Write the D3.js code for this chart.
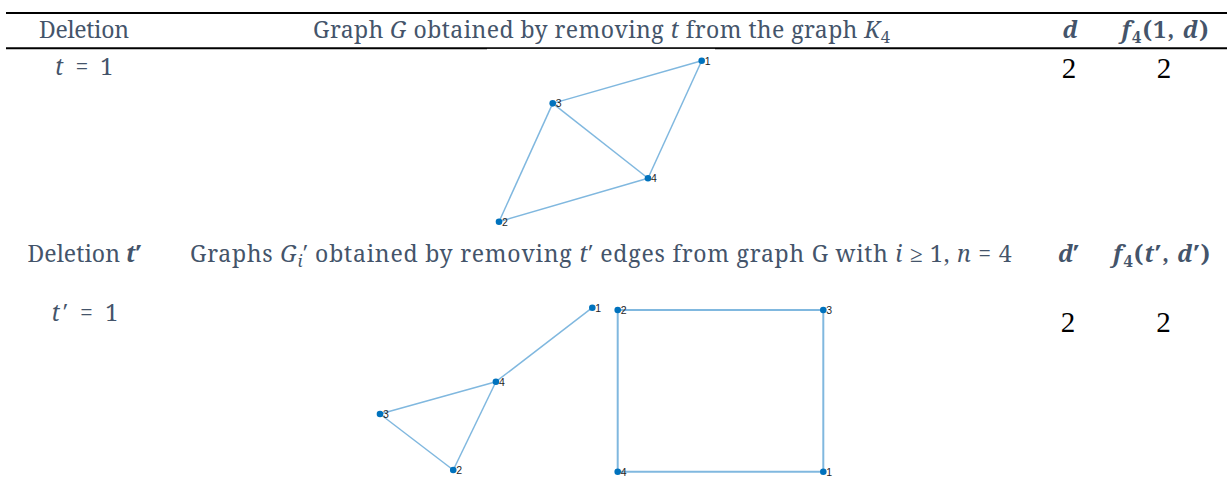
<!DOCTYPE html>
<html>
<head>
<meta charset="utf-8">
<script src="https://cdn.jsdelivr.net/npm/d3@7"></script>
<style>
  body { margin: 0; background: #fff; }
  svg { display: block; }
</style>
</head>
<body>
<script>
const WIDTH = 1227;
const HEIGHT = 478;
const TEXT_COLOR = '#44546A';
const NODE_COLOR = '#0072BD';
const EDGE_COLOR = '#80B8DF';
const SERIF = "'Noto Serif'";
const TIMES = "'Liberation Serif'";
const SANS = "'Liberation Sans'";

// table text: *..* italic, ~..~ subscript, #..# bold
var deletionLabels = ['Deletion', 'Deletion #*t*′#'];
var graphTitles = [
    'Graph *G* obtained by removing *t* from the graph *K*~4~',
    'Graphs *G*~*i*~′ obtained by removing *t*′ edges from graph G with *i* ≥ 1, *n* = 4'
];
var dLabels = ['#*d*#', '#*d*′#'];
var fLabels = ['#*f*~4~(1, *d*)#', '#*f*~4~(*t*′, *d*′)#'];
var tValues = ['*t* = 1', '*t*′ = 1'];
var dValues = [2, 2];
var fValues = [2, 2];

// graph layouts (node x / y in layout units, edges as node pairs)
var graph1Nodes = [
    {id: 1, x: 1.0, y: 1.0},
    {id: 2, x: 0.0, y: 0.0},
    {id: 3, x: 0.265, y: 0.735},
    {id: 4, x: 0.735, y: 0.27}
];
var graph1Edges = [[1, 3], [1, 4], [3, 4], [3, 2], [2, 4]];

var graph2aNodes = [
    {id: 1, x: 1.0, y: 1.0},
    {id: 2, x: 0.345, y: 0.0},
    {id: 3, x: 0.0, y: 0.345},
    {id: 4, x: 0.546, y: 0.544}
];
var graph2aEdges = [[1, 4], [4, 3], [4, 2], [3, 2]];

var graph2bNodes = [
    {id: 1, x: 1.0, y: 0.0},
    {id: 2, x: 0.0, y: 1.0},
    {id: 3, x: 1.0, y: 1.0},
    {id: 4, x: 0.0, y: 0.0}
];
var graph2bEdges = [[2, 3], [3, 1], [1, 4], [4, 2]];

var svg = d3.select('body').append('svg')
    .attr('width', WIDTH)
    .attr('height', HEIGHT)
    .style('background', '#fff');

var parseRuns = function(src) {
    var runs = [];
    var state = {it: false, sub: false, bold: false};
    var buf = '';
    var flush = function() {
        if (buf.length) runs.push({text: buf, it: state.it, sub: state.sub, bold: state.bold});
        buf = '';
    };
    for (var i = 0; i < src.length; i++) {
        var c = src[i];
        if (c === '*') { flush(); state.it = !state.it; }
        else if (c === '~') { flush(); state.sub = !state.sub; }
        else if (c === '#') { flush(); state.bold = !state.bold; }
        else buf += c;
    }
    flush();
    return runs;
};

// place rich text starting at x0; longer strings get their spacing stretched to end at x1
var richText = function(src, x0, x1, baseline, size, color) {
    var t = svg.append('text')
        .attr('x', x0)
        .attr('y', baseline)
        .style('font-family', SERIF)
        .style('font-size', size + 'px')
        .attr('fill', color);
    var inSub = false;
    var chars = 0;
    parseRuns(src).forEach(function(r) {
        var span = t.append('tspan').text(r.text)
            .style('font-style', r.it ? 'italic' : 'normal')
            .style('font-weight', r.bold ? 'bold' : 'normal');
        if (r.sub) span.style('font-size', (size * 0.72) + 'px');
        if (r.sub && !inSub) span.attr('dy', size * 0.22);
        else if (!r.sub && inSub) span.attr('dy', -size * 0.22);
        inSub = r.sub;
        chars += r.text.length;
    });
    if (chars > 2) {
        t.attr('textLength', x1 - x0).attr('lengthAdjust', 'spacing');
    }
    return t;
};

var centeredText = function(value, cx, baseline, size) {
    svg.append('text')
        .attr('x', cx)
        .attr('y', baseline)
        .attr('text-anchor', 'middle')
        .style('font-family', TIMES)
        .style('font-size', size + 'px')
        .attr('fill', '#000')
        .text(value);
};

var drawGraph = function(nodes, edges, box, edgeWidth) {
    var xScale = d3.scaleLinear().domain([0, 1]).range([box.x0, box.x1]);
    var yScale = d3.scaleLinear().domain([0, 1]).range([box.y1, box.y0]);
    var byId = {};
    nodes.forEach(function(n) { byId[n.id] = n; });
    var g = svg.append('g');
    g.selectAll('line')
        .data(edges)
        .enter()
        .append('line')
        .attr('x1', function(e) { return xScale(byId[e[0]].x); })
        .attr('y1', function(e) { return yScale(byId[e[0]].y); })
        .attr('x2', function(e) { return xScale(byId[e[1]].x); })
        .attr('y2', function(e) { return yScale(byId[e[1]].y); })
        .attr('stroke', EDGE_COLOR)
        .attr('stroke-width', edgeWidth);
    g.selectAll('circle')
        .data(nodes)
        .enter()
        .append('circle')
        .attr('cx', function(d) { return xScale(d.x); })
        .attr('cy', function(d) { return yScale(d.y); })
        .attr('r', 3.3)
        .attr('fill', NODE_COLOR);
    g.selectAll('text')
        .data(nodes)
        .enter()
        .append('text')
        .attr('x', function(d) { return xScale(d.x) + 3; })
        .attr('y', function(d) { return yScale(d.y) + 4; })
        .style('font-family', SANS)
        .style('font-size', '10.5px')
        .attr('fill', '#262626')
        .text(function(d) { return d.id; });
};

// rules
svg.append('line')
    .attr('x1', 6).attr('x2', WIDTH).attr('y1', 13).attr('y2', 13)
    .attr('stroke', '#000').attr('stroke-width', 2);
svg.append('line')
    .attr('x1', 6).attr('x2', WIDTH).attr('y1', 48.3).attr('y2', 48.3)
    .attr('stroke', '#000').attr('stroke-width', 2);
// white background of the pasted graph picture
svg.append('rect')
    .attr('x', 487).attr('y', 48.9).attr('width', 228).attr('height', 180)
    .attr('fill', '#fff');

// header row 1
richText(deletionLabels[0], 39, 129, 38, 23, TEXT_COLOR);
richText(graphTitles[0], 313, 890, 38, 23, TEXT_COLOR);
richText(dLabels[0], 1062.5, 1075.5, 38, 23, TEXT_COLOR);
richText(fLabels[0], 1121.5, 1208.5, 38, 23, TEXT_COLOR);

// row 1 values
richText(tValues[0], 55, 113, 75, 23, TEXT_COLOR);
centeredText(dValues[0], 1069, 77.5, 29);
centeredText(fValues[0], 1164, 77.5, 29);

// header row 2
richText(deletionLabels[1], 27.5, 141.5, 262, 23, TEXT_COLOR);
richText(graphTitles[1], 190, 1011.5, 262, 23, TEXT_COLOR);
richText(dLabels[1], 1058, 1075.5, 262, 23, TEXT_COLOR);
richText(fLabels[1], 1113, 1210, 262, 23, TEXT_COLOR);

// row 2 values
richText(tValues[1], 51.5, 118, 321, 23, TEXT_COLOR);
centeredText(dValues[1], 1068, 331.7, 29);
centeredText(fValues[1], 1163.5, 331.7, 29);

// graphs
drawGraph(graph1Nodes, graph1Edges, {x0: 499, x1: 701.7, y0: 60.7, y1: 221.7}, 1.5);
drawGraph(graph2aNodes, graph2aEdges, {x0: 380, x1: 592.3, y0: 307.7, y1: 470}, 1.5);
drawGraph(graph2bNodes, graph2bEdges, {x0: 617.7, x1: 823.3, y0: 310, y1: 471.7}, 2);
</script>
</body>
</html>
